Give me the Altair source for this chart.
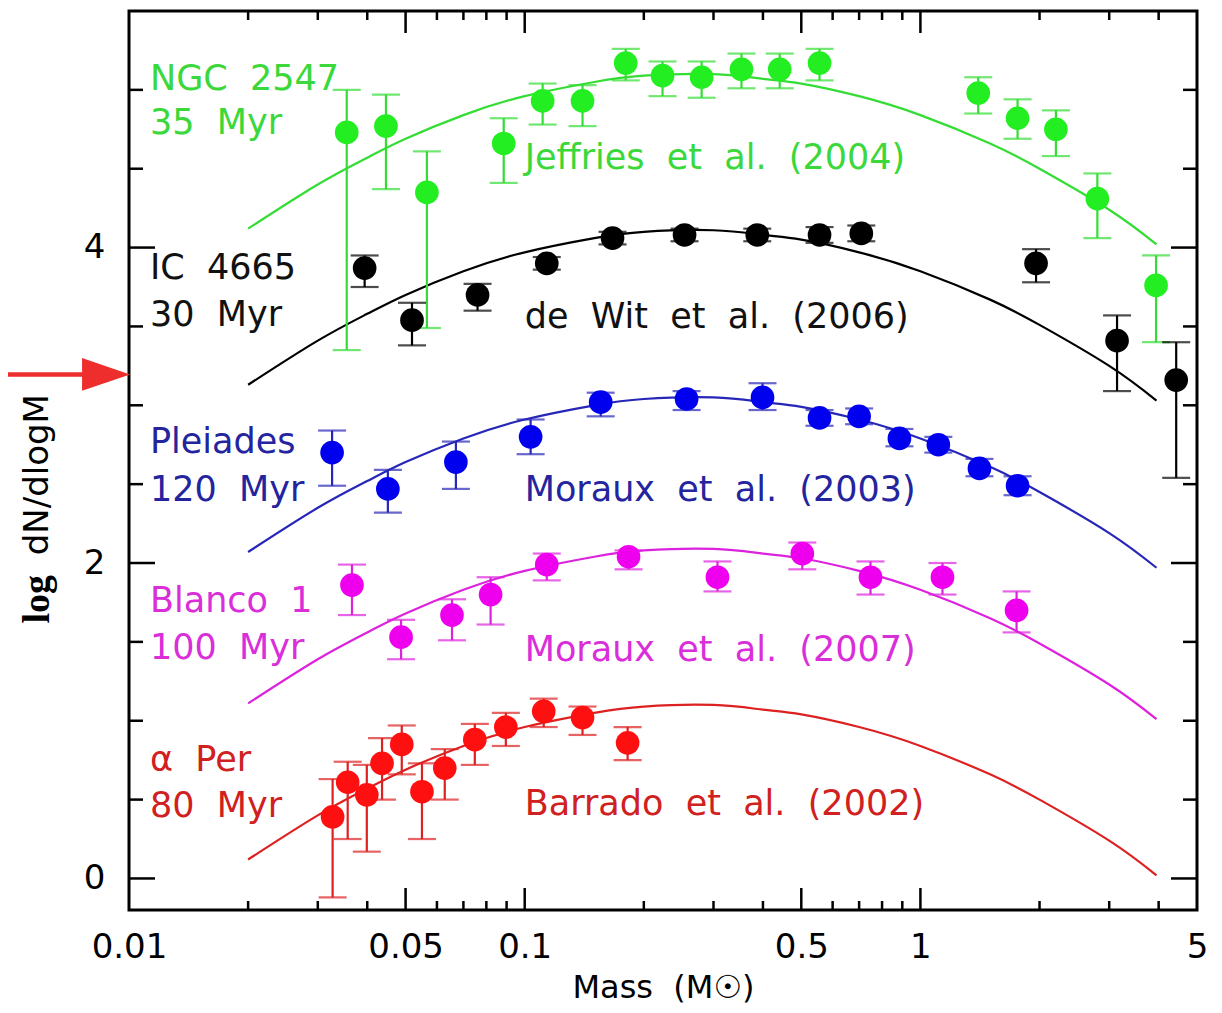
import altair as alt
import pandas as pd

# ---------------- data ----------------
series = ["NGC 2547", "IC 4665", "Pleiades", "Blanco 1", "α Per"]

ngc_mass = [0.0355, 0.0446, 0.0566, 0.0885, 0.111, 0.140, 0.180, 0.223, 0.280, 0.353, 0.441, 0.556, 1.40, 1.76, 2.20, 2.80, 3.94]
ngc_val = [4.73, 4.77, 4.35, 4.66, 4.93, 4.93, 5.17, 5.09, 5.08, 5.13, 5.13, 5.17, 4.98, 4.82, 4.75, 4.31, 3.76]
ngc_lo = [3.35, 4.37, 3.49, 4.41, 4.78, 4.77, 5.06, 4.96, 4.95, 5.01, 5.01, 5.06, 4.85, 4.69, 4.58, 4.06, 3.40]
ngc_hi = [5.00, 4.97, 4.61, 4.82, 5.04, 5.03, 5.26, 5.18, 5.18, 5.23, 5.23, 5.26, 5.08, 4.94, 4.87, 4.47, 3.95]

ic_mass = [0.0394, 0.0519, 0.0760, 0.1137, 0.1667, 0.2535, 0.387, 0.556, 0.709, 1.96, 3.14, 4.43]
ic_val = [3.87, 3.54, 3.70, 3.90, 4.06, 4.08, 4.08, 4.08, 4.09, 3.90, 3.41, 3.16]
ic_lo = [3.75, 3.38, 3.60, 3.86, 4.02, 4.04, 4.04, 4.03, 4.04, 3.78, 3.09, 2.54]
ic_hi = [3.95, 3.65, 3.77, 3.94, 4.10, 4.12, 4.12, 4.13, 4.14, 3.99, 3.57, 3.40]

ple_mass = [0.0326, 0.0451, 0.0670, 0.1035, 0.1556, 0.2565, 0.399, 0.556, 0.700, 0.885, 1.11, 1.41, 1.76]
ple_val = [2.70, 2.47, 2.64, 2.80, 3.02, 3.04, 3.05, 2.92, 2.93, 2.79, 2.75, 2.60, 2.49]
ple_lo = [2.49, 2.32, 2.47, 2.69, 2.93, 2.97, 2.97, 2.87, 2.88, 2.74, 2.70, 2.55, 2.43]
ple_hi = [2.84, 2.59, 2.77, 2.91, 3.08, 3.09, 3.14, 2.97, 2.98, 2.85, 2.80, 2.66, 2.55]

bla_mass = [0.0366, 0.0487, 0.0655, 0.0820, 0.1137, 0.183, 0.307, 0.503, 0.748, 1.137, 1.75]
bla_val = [1.86, 1.53, 1.67, 1.80, 1.99, 2.04, 1.91, 2.06, 1.91, 1.91, 1.70]
bla_lo = [1.67, 1.39, 1.51, 1.61, 1.89, 1.96, 1.82, 1.96, 1.80, 1.80, 1.56]
bla_hi = [1.99, 1.64, 1.77, 1.91, 2.06, 2.08, 2.01, 2.13, 2.01, 2.00, 1.82]

aper_mass = [0.0327, 0.0357, 0.0399, 0.0436, 0.0489, 0.0550, 0.0628, 0.0748, 0.0896, 0.1117, 0.140, 0.182]
aper_val = [0.39, 0.61, 0.53, 0.73, 0.85, 0.55, 0.70, 0.88, 0.96, 1.06, 1.02, 0.86]
aper_lo = [-0.12, 0.25, 0.17, 0.50, 0.66, 0.25, 0.50, 0.72, 0.84, 0.96, 0.91, 0.75]
aper_hi = [0.63, 0.74, 0.72, 0.89, 0.97, 0.73, 0.82, 0.98, 1.05, 1.14, 1.09, 0.96]

# fitted log-normal curves
curve_mass = [0.02, 0.03, 0.04, 0.05, 0.07, 0.1, 0.15, 0.2, 0.3, 0.4, 0.5, 0.7, 1.0, 1.5, 2.0, 3.0, 3.95]
ngc_curve = [4.12, 4.40, 4.57, 4.69, 4.84, 4.96, 5.05, 5.09, 5.10, 5.07, 5.04, 4.96, 4.84, 4.66, 4.50, 4.24, 4.02]
ic_curve = [3.13, 3.41, 3.58, 3.70, 3.85, 3.97, 4.06, 4.10, 4.11, 4.08, 4.05, 3.97, 3.85, 3.67, 3.51, 3.25, 3.03]
ple_curve = [2.07, 2.35, 2.52, 2.64, 2.79, 2.91, 3.00, 3.04, 3.05, 3.02, 2.99, 2.91, 2.79, 2.61, 2.45, 2.19, 1.97]
bla_curve = [1.11, 1.39, 1.56, 1.68, 1.83, 1.95, 2.04, 2.08, 2.09, 2.06, 2.03, 1.95, 1.83, 1.65, 1.49, 1.23, 1.01]
aper_curve = [0.12, 0.40, 0.57, 0.69, 0.84, 0.96, 1.05, 1.09, 1.10, 1.07, 1.04, 0.96, 0.84, 0.66, 0.50, 0.24, 0.02]

# text annotations
name_labels = ["NGC 2547", "35 Myr", "IC 4665", "30 Myr", "Pleiades", "120 Myr",
               "Blanco 1", "100 Myr", "α Per", "80 Myr"]
name_label_y = [5.07, 4.79, 3.87, 3.57, 2.77, 2.46, 1.76, 1.46, 0.75, 0.46]
name_label_series = ["NGC 2547", "NGC 2547", "IC 4665", "IC 4665", "Pleiades", "Pleiades",
                     "Blanco 1", "Blanco 1", "α Per", "α Per"]
name_label_mass = 0.0113
ref_labels = ["Jeffries et al. (2004)", "de Wit et al. (2006)", "Moraux et al. (2003)",
              "Moraux et al. (2007)", "Barrado et al. (2002)"]
ref_label_y = [4.57, 3.56, 2.46, 1.45, 0.47]
ref_label_mass = 0.1

# axis ticks
x_label_values = [0.01, 0.05, 0.1, 0.5, 1, 5]
x_major_ticks = [0.05, 0.1, 0.5, 1]
x_minor_ticks = [0.02, 0.03, 0.04, 0.06, 0.07, 0.08, 0.09, 0.2, 0.3, 0.4,
                 0.6, 0.7, 0.8, 0.9, 2, 3, 4]
y_label_values = [0, 2, 4]
y_minor_ticks = [0.5, 1, 1.5, 2.5, 3, 3.5, 4.5, 5]

# red arrow annotation on the left margin (data units)
arrow_y = 3.196
arrow_x_start = 0.00485
arrow_x_end = 0.0080
arrow_head_x = 0.00875

# y-axis title pieces (data units, outside the plot)
ytitle_mass = 0.0059
ytitle_log_y = 1.77
ytitle_rest_y = 2.56

# ---------------- styles ----------------
marker_colors = ["#22ee22", "#000000", "#0000ee", "#ee00ee", "#ff1010"]
line_colors = ["#33dd33", "#000000", "#2626b8", "#dd22dd", "#dd2020"]
text_colors = ["#3ad83a", "#111111", "#24249e", "#d92ed9", "#d02020"]
FONT = "DejaVu Sans"
W, H = 1068, 899

# ---------------- tables ----------------
p_groups = [(ngc_mass, ngc_val, ngc_lo, ngc_hi), (ic_mass, ic_val, ic_lo, ic_hi),
            (ple_mass, ple_val, ple_lo, ple_hi), (bla_mass, bla_val, bla_lo, bla_hi),
            (aper_mass, aper_val, aper_lo, aper_hi)]
rows = []
for name, (m, v, lo, hi) in zip(series, p_groups):
    for a, b, c, d in zip(m, v, lo, hi):
        rows.append({"series": name, "mass": a, "val": b, "lo": c, "hi": d})
points = pd.DataFrame(rows)

c_groups = [ngc_curve, ic_curve, ple_curve, bla_curve, aper_curve]
rows = []
for name, vals in zip(series, c_groups):
    for a, b in zip(curve_mass, vals):
        rows.append({"series": name, "mass": a, "val": b})
curves = pd.DataFrame(rows)

def spaced(s):
    return s.replace(" ", "\u00a0\u00a0")

labels = pd.DataFrame(
    [{"series": s, "mass": name_label_mass, "val": y, "text": spaced(t)}
     for s, y, t in zip(name_label_series, name_label_y, name_labels)]
    + [{"series": s, "mass": ref_label_mass, "val": y, "text": spaced(t)}
       for s, y, t in zip(series, ref_label_y, ref_labels)]
)

xscale = alt.Scale(type="log", domain=[0.01, 5], nice=False)
yscale = alt.Scale(domain=[-0.2, 5.5], nice=False, zero=False)
xaxis = alt.Axis(values=x_label_values, format="~g", ticks=False, domain=False, grid=False,
                 labelFont=FONT, labelFontSize=34, labelColor="black", labelPadding=20,
                 labelFlush=False, labelOverlap=False,
                 title="Mass\u00a0\u00a0(M☉)", titleFont=FONT, titleFontSize=32,
                 titleFontWeight="normal", titleColor="black", titlePadding=8)
yaxis = alt.Axis(values=y_label_values, ticks=False, domain=False, grid=False,
                 labelFont=FONT, labelFontSize=34, labelColor="black", labelPadding=24,
                 title=None)

X = alt.X("mass:Q", scale=xscale, axis=xaxis)
Y = alt.Y("val:Q", scale=yscale, axis=yaxis)

def cscale(colors):
    return alt.Color("series:N", scale=alt.Scale(domain=series, range=colors), legend=None)

line_layer = alt.Chart(curves).mark_line(strokeWidth=2.2, interpolate="natural").encode(
    x=X, y=Y, color=cscale(line_colors), detail="series:N")

err_layer = alt.Chart(points).mark_rule(strokeWidth=2.2).encode(
    x=X, y=alt.Y("lo:Q", scale=yscale, axis=yaxis), y2="hi:Q", color=cscale(line_colors))

cap_lo = alt.Chart(points).mark_tick(orient="horizontal", size=28, thickness=2.2).encode(
    x=X, y=alt.Y("lo:Q", scale=yscale, axis=yaxis), color=cscale(line_colors))
cap_hi = alt.Chart(points).mark_tick(orient="horizontal", size=28, thickness=2.2).encode(
    x=X, y=alt.Y("hi:Q", scale=yscale, axis=yaxis), color=cscale(line_colors))

pt_layer = alt.Chart(points).mark_circle(size=560, opacity=1).encode(
    x=X, y=Y, color=cscale(marker_colors))

text_layer = alt.Chart(labels).mark_text(
    align="left", baseline="middle", font=FONT, fontSize=35).encode(
    x=X, y=Y, text="text:N", color=cscale(text_colors))

# inward ticks drawn as rules
yt_major = pd.DataFrame({"v": y_label_values})
yt_minor = pd.DataFrame({"v": y_minor_ticks})
xt_major = pd.DataFrame({"v": x_major_ticks})
xt_minor = pd.DataFrame({"v": x_minor_ticks})
YV = alt.Y("v:Q", scale=yscale, axis=yaxis)
XV = alt.X("v:Q", scale=xscale, axis=xaxis)
tick_style = dict(color="black", strokeWidth=2.5)
ticks = [
    alt.Chart(yt_major).mark_rule(**tick_style).encode(y=YV, x=alt.value(0), x2=alt.value(26)),
    alt.Chart(yt_major).mark_rule(**tick_style).encode(y=YV, x=alt.value(W), x2=alt.value(W - 26)),
    alt.Chart(yt_minor).mark_rule(**tick_style).encode(y=YV, x=alt.value(0), x2=alt.value(14)),
    alt.Chart(yt_minor).mark_rule(**tick_style).encode(y=YV, x=alt.value(W), x2=alt.value(W - 14)),
    alt.Chart(xt_major).mark_rule(**tick_style).encode(x=XV, y=alt.value(H), y2=alt.value(H - 22)),
    alt.Chart(xt_major).mark_rule(**tick_style).encode(x=XV, y=alt.value(0), y2=alt.value(22)),
    alt.Chart(xt_minor).mark_rule(**tick_style).encode(x=XV, y=alt.value(H), y2=alt.value(H - 9)),
    alt.Chart(xt_minor).mark_rule(**tick_style).encode(x=XV, y=alt.value(0), y2=alt.value(9)),
]

# red arrow
arrow_df = pd.DataFrame({"x1": [arrow_x_start], "x2": [arrow_x_end], "hx": [arrow_head_x], "y": [arrow_y]})
arrow_line = alt.Chart(arrow_df).mark_rule(color="#ee2d2d", strokeWidth=4.5, clip=False).encode(
    x=alt.X("x1:Q", scale=xscale, axis=xaxis), x2="x2:Q",
    y=alt.Y("y:Q", scale=yscale, axis=yaxis))
arrow_head = alt.Chart(arrow_df).mark_point(
    shape="M-1,-0.68L1,0L-1,0.68Z", size=2304, filled=True, opacity=1,
    color="#ee2d2d", clip=False).encode(
    x=alt.X("hx:Q", scale=xscale, axis=xaxis), y=alt.Y("y:Q", scale=yscale, axis=yaxis))

# y title: bold "log" + "dN/dlogM"
yt_df = pd.DataFrame({"m": [ytitle_mass], "a": [ytitle_log_y], "b": [ytitle_rest_y]})
ytitle_log = alt.Chart(yt_df).mark_text(
    text="log", angle=270, font="Liberation Serif", fontWeight="bold", fontSize=38,
    align="center", baseline="middle", color="black").encode(
    x=alt.X("m:Q", scale=xscale, axis=xaxis), y=alt.Y("a:Q", scale=yscale, axis=yaxis))
ytitle_rest = alt.Chart(yt_df).mark_text(
    text="dN/dlogM", angle=270, font=FONT, fontSize=34,
    align="center", baseline="middle", color="black").encode(
    x=alt.X("m:Q", scale=xscale, axis=xaxis), y=alt.Y("b:Q", scale=yscale, axis=yaxis))

chart = alt.layer(
    line_layer, err_layer, cap_lo, cap_hi, pt_layer, text_layer, *ticks,
    arrow_line, arrow_head, ytitle_log, ytitle_rest
).resolve_scale(color="independent").properties(
    width=W, height=H,
    padding={"left": 121, "top": 3, "right": 17, "bottom": 100},
    autosize=alt.AutoSizeParams(type="none"),
    background="white",
).configure_view(stroke="black", strokeWidth=3)

chart.save("out.html", embed_options={"renderer": "svg", "actions": False})
